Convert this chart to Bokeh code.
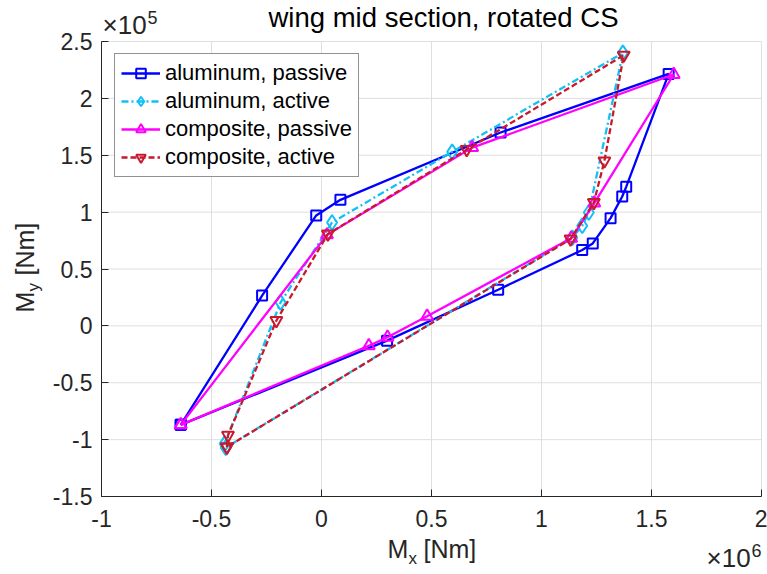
import math
from bokeh.plotting import figure
from bokeh.models import (Range1d, FixedTicker, NumeralTickFormatter, Label,
                          Legend, LegendItem, ColumnDataSource)
from bokeh.embed import file_html
from bokeh.resources import INLINE

# Mx in units of 1e6 Nm, My in units of 1e5 Nm
alu_passive_mx = [-0.64, -0.27, -0.024, 0.086, 0.814, 1.578, 1.385, 1.367, 1.314, 1.233, 1.185, 0.803, 0.298, -0.64]
alu_passive_my = [-0.87, 0.266, 0.971, 1.108, 1.70, 2.215, 1.222, 1.137, 0.947, 0.725, 0.667, 0.318, -0.13, -0.87]

alu_active_mx = [-0.44, -0.186, 0.048, 0.594, 1.370, 1.215, 1.185, 1.140, -0.435]
alu_active_my = [-1.035, 0.207, 0.909, 1.530, 2.400, 0.997, 0.880, 0.775, -1.070]

comp_passive_mx = [-0.64, 0.025, 0.685, 1.601, 1.240, 1.135, 0.480, 0.300, 0.215, -0.64]
comp_passive_my = [-0.87, 0.800, 1.567, 2.210, 1.080, 0.770, 0.085, -0.100, -0.175, -0.87]

comp_active_mx = [-0.43, -0.425, -0.205, 0.029, 0.660, 1.374, 1.286, 1.238, 1.132, -0.43]
comp_active_my = [-1.065, -0.962, 0.047, 0.807, 1.550, 2.380, 1.450, 1.084, 0.763, -1.065]

series_names = ["aluminum, passive", "aluminum, active", "composite, passive", "composite, active"]
x_ticks = [-1, -0.5, 0, 0.5, 1, 1.5, 2]
y_ticks = [-1.5, -1, -0.5, 0, 0.5, 1, 1.5, 2, 2.5]

FONT = "Liberation Sans"
TXT = "#262626"

W, H = 767, 574
# axes box in page pixels
BOX_L, BOX_R, BOX_T, BOX_B = 101, 761, 41, 496
sx = (BOX_R - BOX_L) / (x_ticks[-1] - x_ticks[0])
sy = (BOX_B - BOX_T) / (y_ticks[-1] - y_ticks[0])
x0 = x_ticks[0] - BOX_L / sx
x1 = x0 + W / sx
y1 = y_ticks[-1] + BOX_T / sy
y0 = y1 - H / sy

p = figure(frame_width=W, frame_height=H,
           min_border_left=0, min_border_right=0, min_border_top=0, min_border_bottom=0,
           x_range=Range1d(x0, x1), y_range=Range1d(y0, y1),
           output_backend="svg", toolbar_location=None, title=None)
p.background_fill_color = "white"
p.border_fill_color = "white"
p.outline_line_color = None
p.grid.visible = False

# grid lines inside the axes box
p.segment(x0=x_ticks, y0=[y_ticks[0]] * len(x_ticks), x1=x_ticks, y1=[y_ticks[-1]] * len(x_ticks),
          line_color="#dfdfdf", line_width=1)
p.segment(x0=[x_ticks[0]] * len(y_ticks), y0=y_ticks, x1=[x_ticks[-1]] * len(y_ticks), y1=y_ticks,
          line_color="#dfdfdf", line_width=1)

xa = p.xaxis[0]
ya = p.yaxis[0]
xa.fixed_location = y_ticks[0]
ya.fixed_location = x_ticks[0]
xa.bounds = (x_ticks[0], x_ticks[-1])
ya.bounds = (y_ticks[0], y_ticks[-1])
for ax, ticks in ((xa, x_ticks), (ya, y_ticks)):
    ax.ticker = FixedTicker(ticks=ticks)
    ax.formatter = NumeralTickFormatter(format="0.[0]")
    ax.axis_line_color = TXT
    ax.axis_line_width = 1
    ax.major_tick_line_color = TXT
    ax.major_tick_in = 7
    ax.major_tick_out = 0
    ax.minor_tick_line_color = None
    ax.major_label_text_font = FONT
    ax.major_label_text_font_size = "23px"
    ax.major_label_text_color = TXT
xa.major_label_standoff = 13
ya.major_label_standoff = 9

specs = [
    (alu_passive_mx, alu_passive_my, "#0000ff", "solid", "square", 10),
    (alu_active_mx, alu_active_my, "#12c0f5", "7 3 2 3", "diamond", 15),
    (comp_passive_mx, comp_passive_my, "#ff00ff", "solid", "triangle", 12),
    (comp_active_mx, comp_active_my, "#c8192d", "6 3", "inverted_triangle", 12),
]

items = []
for (xs, ys, col, dash, mk, sz), name in zip(specs, series_names):
    src = ColumnDataSource(dict(x=xs, y=ys))
    lr = p.line("x", "y", source=src, line_color=col, line_width=2.3, line_dash=dash)
    sr = p.scatter("x", "y", source=src, marker=mk, size=sz, line_color=col,
                   line_width=2, fill_color=None)
    items.append(LegendItem(label=name, renderers=[lr, sr]))

legend = Legend(items=items, location=(114, H - 177),
                label_text_font=FONT, label_text_font_size="22px", label_text_color="black",
                label_height=24, glyph_height=24, glyph_width=39, spacing=2, padding=6,
                label_standoff=5, border_line_color="#262626", border_line_width=1,
                background_fill_color="white", background_fill_alpha=1)
p.add_layout(legend, "center")


def dx(px):
    return x0 + px / sx


def dy(py):
    return y1 - py / sy


def lab(text, px, py, size, angle=0.0, align="left", color="black"):
    # px, py: where the text baseline starts; Bokeh places the anchor about 0.4 em above it
    if angle:
        px = px - 0.4 * size
    else:
        py = py - 0.4 * size
    p.add_layout(Label(x=dx(px), y=dy(py), text=text, text_font=FONT,
                       text_font_size=f"{size}px", text_color=color,
                       text_align=align, text_baseline="alphabetic", angle=angle))


# title
lab("wing mid section, rotated CS", 443, 28, 27.5, align="center")
# exponent markers
lab("\u00d710", 102, 35, 26, color=TXT)
lab("5", 147, 24, 18, color=TXT)
lab("\u00d710", 706, 568, 26, color=TXT)
lab("6", 751, 557, 18, color=TXT)
# x label
lab("M", 387, 558, 25, color=TXT)
lab("x", 408, 565, 17, color=TXT)
lab("[Nm]", 423, 558, 25, color=TXT)
# y label (rotated)
lab("M", 34, 312, 25, angle=math.pi / 2, color=TXT)
lab("y", 40, 291, 17, angle=math.pi / 2, color=TXT)
lab("[Nm]", 34, 275, 25, angle=math.pi / 2, color=TXT)

open("out.html", "w").write(file_html(p, INLINE))
